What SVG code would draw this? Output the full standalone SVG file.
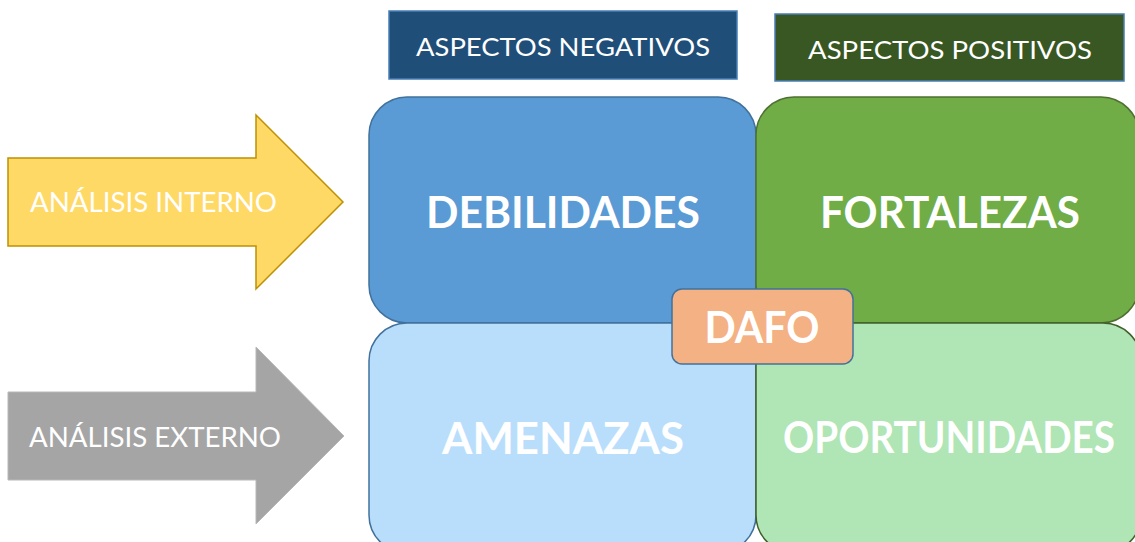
<svg xmlns="http://www.w3.org/2000/svg" width="1135" height="542" viewBox="0 0 1135 542">
<style>
text{font-family:Lato,"Open Sans","Liberation Sans",sans-serif;fill:#fff;text-anchor:middle}
.hd{font-size:25px}
.ar{font-size:26px;text-anchor:start}
.q{font-size:43px;font-weight:bold}
</style>
<rect width="1135" height="542" fill="#fff"/>
<g id="arrow-interno">
<polygon points="8,158 256,158 256,115 343,202 256,289 256,246 8,246" fill="#FFD966" stroke="#BF9000" stroke-width="1.5"/>
<text class="ar" x="30" y="212" textLength="247" lengthAdjust="spacingAndGlyphs">ANÁLISIS INTERNO</text>
</g>
<g id="arrow-externo">
<polygon points="8,392 256,392 256,347 344,436 256,524 256,480 8,480" fill="#A5A5A5" stroke="#B8B8B8" stroke-width="1"/>
<text class="ar" x="29" y="447" textLength="252" lengthAdjust="spacingAndGlyphs">ANÁLISIS EXTERNO</text>
</g>
<g id="aspectos-negativos">
<rect x="389" y="11" width="348" height="68" fill="#1F4E79" stroke="#4A7EB5" stroke-width="1.5"/>
<text class="hd" x="563" y="56" textLength="294" lengthAdjust="spacingAndGlyphs">ASPECTOS NEGATIVOS</text>
</g>
<g id="aspectos-positivos">
<rect x="775" y="14" width="349" height="67" fill="#385723" stroke="#4A7EB5" stroke-width="1.5"/>
<text class="hd" x="950" y="59" textLength="284" lengthAdjust="spacingAndGlyphs">ASPECTOS POSITIVOS</text>
</g>
<g id="debilidades">
<rect x="369" y="97" width="387" height="226" rx="38" fill="#5B9BD5" stroke="#41719C" stroke-width="1.5"/>
<text class="q" x="563" y="228" textLength="274" lengthAdjust="spacingAndGlyphs">DEBILIDADES</text>
</g>
<g id="fortalezas">
<rect x="756" y="97" width="383" height="226" rx="38" fill="#70AD47" stroke="#4E6F30" stroke-width="1.5"/>
<text class="q" x="950" y="228" textLength="260" lengthAdjust="spacingAndGlyphs">FORTALEZAS</text>
</g>
<g id="amenazas">
<rect x="369" y="323" width="387" height="230" rx="38" fill="#B9DEFC" stroke="#41719C" stroke-width="1.5"/>
<text class="q" x="563" y="454" textLength="242" lengthAdjust="spacingAndGlyphs">AMENAZAS</text>
</g>
<g id="oportunidades">
<rect x="756" y="323" width="385" height="230" rx="38" fill="#B0E5B5" stroke="#3F5F2A" stroke-width="1.5"/>
<text class="q" x="949" y="453" textLength="332" lengthAdjust="spacingAndGlyphs">OPORTUNIDADES</text>
</g>
<g id="dafo">
<rect x="672" y="289" width="181" height="75" rx="10" fill="#F4B183" stroke="#41719C" stroke-width="1.5"/>
<text class="q" x="762" y="343" textLength="115" lengthAdjust="spacingAndGlyphs">DAFO</text>
</g>
<g id="connectors"></g>
</svg>
